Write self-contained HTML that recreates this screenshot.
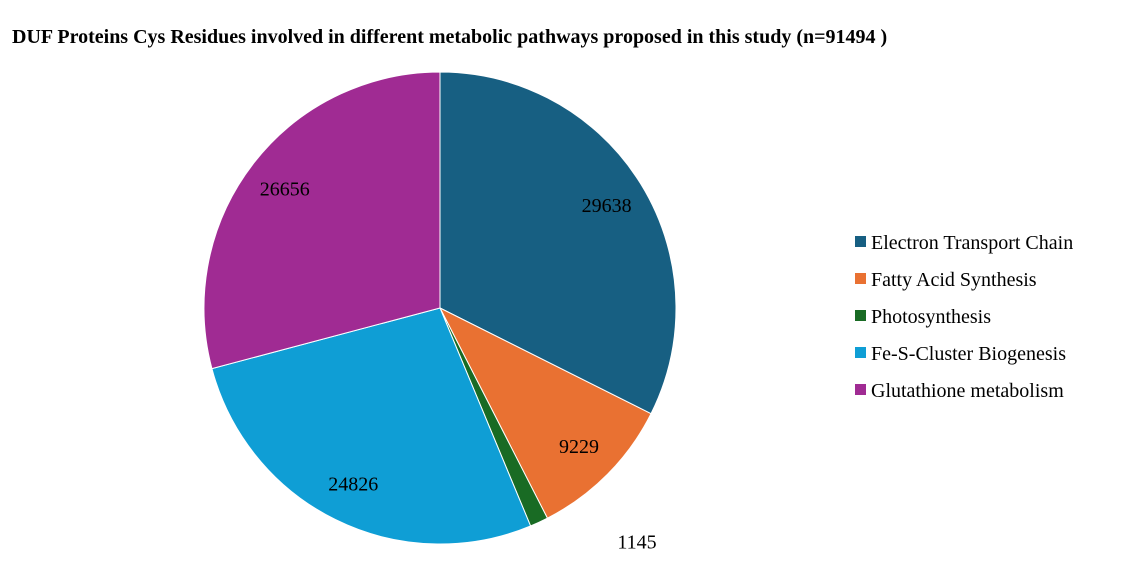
<!DOCTYPE html>
<html><head><meta charset="utf-8"><style>
body{margin:0;background:#fff;}
svg{display:block;font-family:"Liberation Serif",serif;}
</style></head><body>
<svg id="chart" width="1140" height="575">
<rect width="1140" height="575" fill="#fff"/>
<text x="12" y="43" font-size="20" font-weight="bold">DUF Proteins Cys Residues involved in different metabolic pathways proposed in this study (n=91494 )</text>
<g id="slices"></g><g id="labels"></g><g id="legend"></g>
</svg>
<script>
const categories=["Electron Transport Chain","Fatty Acid Synthesis","Photosynthesis","Fe-S-Cluster Biogenesis","Glutathione metabolism"];
const values=[29638,9229,1145,24826,26656];
const colors=["#175f82","#e97132","#196b24","#0f9ed5","#a02b93"];
const NS="http://www.w3.org/2000/svg";
const cx=440,cy=308,r=236;
const total=values.reduce((a,b)=>a+b,0);
const sg=document.getElementById('slices'),lg=document.getElementById('labels'),leg=document.getElementById('legend');
function pt(a,rr){return [cx+rr*Math.sin(a),cy-rr*Math.cos(a)];}
let acc=0;
values.forEach((v,i)=>{
  const a0=acc/total*2*Math.PI;acc+=v;const a1=acc/total*2*Math.PI;
  const p0=pt(a0,r),p1=pt(a1,r);
  const large=(a1-a0)>Math.PI?1:0;
  const p=document.createElementNS(NS,'path');
  p.setAttribute('d',`M${cx},${cy}L${p0[0]},${p0[1]}A${r},${r} 0 ${large} 1 ${p1[0]},${p1[1]}Z`);
  p.setAttribute('fill',colors[i]);p.setAttribute('stroke','#fff');p.setAttribute('stroke-width','1');
  
  
  sg.appendChild(p);
  const am=(a0+a1)/2;const small=v/total<0.03;
  let q=pt(am,small?r*1.08:r*0.83);
  if(small){q[0]+=90;q[1]+=2;}
  const t=document.createElementNS(NS,'text');
  t.setAttribute('x',q[0]);t.setAttribute('y',q[1]+7);t.setAttribute('font-size','20');
  t.setAttribute('text-anchor','middle');t.textContent=v;
  
  
  lg.appendChild(t);
  const y=242+i*37;
  const s=document.createElementNS(NS,'rect');
  s.setAttribute('x',855);s.setAttribute('y',y-6);s.setAttribute('width',11);s.setAttribute('height',11);s.setAttribute('fill',colors[i]);
  
  
  leg.appendChild(s);
  const lt=document.createElementNS(NS,'text');
  lt.setAttribute('x',871);lt.setAttribute('y',y+7);lt.setAttribute('font-size','20');lt.textContent=categories[i];
  
  
  leg.appendChild(lt);
});
</script>
</body></html>
